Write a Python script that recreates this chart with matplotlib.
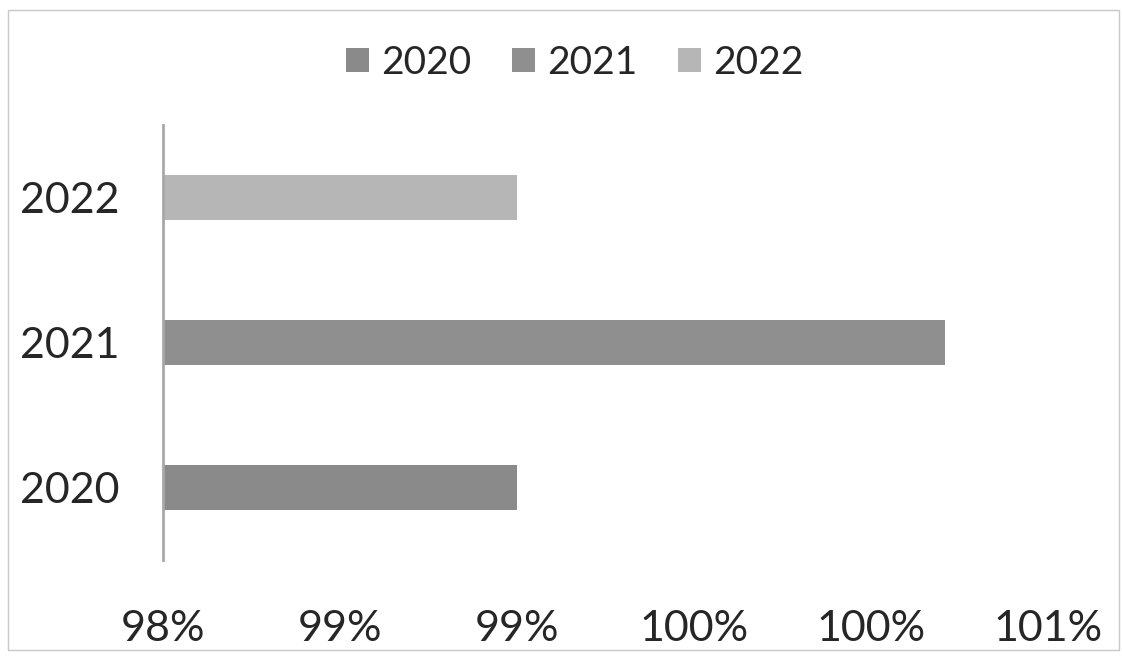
import matplotlib.pyplot as plt
from matplotlib.patches import Rectangle

plt.rcParams['font.family'] = ['Lato', 'DejaVu Sans']

years = ['2020', '2021', '2022']
values = [99.0, 100.21, 99.0]          # percent
colors = ['#8a8a8a', '#8f8f8f', '#b6b6b6']
xticks = [98.0, 98.5, 99.0, 99.5, 100.0, 100.5]
xticklabels = ['98%', '99%', '99%', '100%', '100%', '101%']

fig = plt.figure(figsize=(11.22, 6.6), dpi=100)
ax = fig.add_axes([0.1453, 0.152, 0.7888, 0.659])

### one bar per year, each its own series for the legend ###
for i in range(len(years)):
    ax.barh(i, values[i] - 98.0, left=98.0, height=0.31, color=colors[i], label=years[i])

ax.set_xlim(98.0, 100.5)
ax.set_ylim(-0.5, 2.5)
ax.set_yticks(range(len(years)))
ax.set_yticklabels(years, fontsize=31, color='#262626')
ax.set_xticks(xticks)
ax.set_xticklabels(xticklabels, fontsize=31, color='#262626')
ax.tick_params(axis='both', length=0)
ax.tick_params(axis='y', pad=31)
ax.tick_params(axis='x', pad=36)

for side in ['top', 'right', 'bottom']:
    ax.spines[side].set_visible(False)
ax.spines['left'].set_color('#a8a8a8')
ax.spines['left'].set_linewidth(2)

leg = fig.legend(loc='center', bbox_to_anchor=(0.512, 0.905), ncol=3, frameon=False,
                 fontsize=28, handlelength=0.6, handleheight=0.6, handletextpad=0.3,
                 columnspacing=1.05, labelcolor='#262626')

### scanned chart border ###
fig.patches.append(Rectangle((0.007, 0.015), 0.99, 0.97, transform=fig.transFigure,
                             fill=False, edgecolor='#c8c8c8', linewidth=1))

fig.savefig('out.png', dpi=100)
